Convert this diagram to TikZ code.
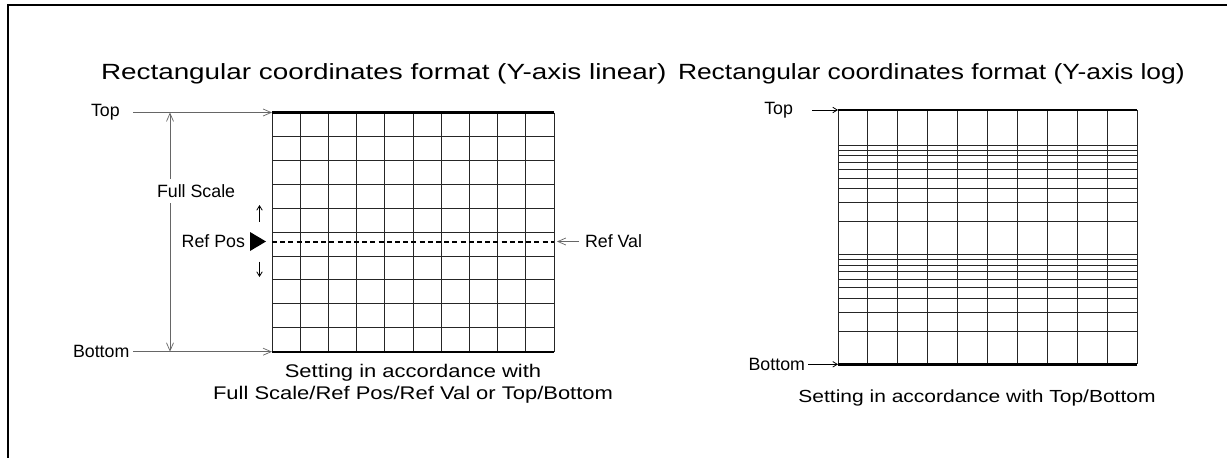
\documentclass[tikz,border=0pt]{standalone}
\usepackage{graphicx}
\usepackage{fontspec}
\setmainfont{Liberation Sans}[FakeStretch=1.2]
\newfontfamily\lblfont{Liberation Sans}
\usetikzlibrary{arrows.meta}
\begin{document}
\begin{tikzpicture}[x=1pt,y=-1pt,
  every node/.style={inner sep=0pt, outer sep=0pt},
  gridline/.style={line width=0.9pt, black!85},
  edgeline/.style={line width=2.4pt, black},
  grayarrow/.style={black!60, line width=0.7pt, -{Straight Barb[length=8pt,width=7pt]}},
  blackarrow/.style={black, line width=0.8pt, -{Straight Barb[length=4.5pt,width=5.5pt]}},
  titletext/.style={font=\fontsize{22}{26}\selectfont, anchor=base west},
  labeltext/.style={font=\lblfont\fontsize{17.8}{21}\selectfont},
  captiontext/.style={font=\fontsize{18.3}{22}\selectfont, align=center}
]
\useasboundingbox (0,0) rectangle (1227,458);
\fill[white] (0,0) rectangle (1227,458);
\draw[line width=2.5pt] (1227,5) -- (8,5) -- (8,458);

% titles
\node[titletext] (t1) at (101,79) {\scalebox{1.055}[1]{Rectangular coordinates format (Y-axis linear)}};
\node[titletext] (t2) at (678,79) {Rectangular coordinates format (Y-axis log)};

% ---------- left grid ----------
\coordinate (LTL) at (272,112.5);
\coordinate (LBL) at (272,351.7);
\coordinate (LRV) at (557,241.5);
\foreach \i in {0,...,10} \draw[gridline] ({272+28.2*\i},112.5) -- ({272+28.2*\i},351.7);
\foreach \j in {1,...,9} \draw[gridline] (272,{112.5+23.92*\j}) -- (554,{112.5+23.92*\j});
\draw[edgeline] (272,112.5) -- (554,112.5);
\draw[edgeline] (272,351.7) -- (554,351.7);
\draw[line width=2pt, dash pattern=on 5pt off 3.2pt] (272,241.5) -- (554,241.5);

\node[labeltext, anchor=west] (top1) at (91,112.5) {Top};
\node[labeltext, anchor=west] (bot1) at (73,351.7) {Bottom};
\coordinate (t1s) at (133,112.5);
\coordinate (b1s) at (133,351.7);
\draw[grayarrow] (t1s) -- (LTL);
\draw[grayarrow] (b1s) -- (LBL);

\node[labeltext, anchor=west] (fs) at (157,191) {Full Scale};
\coordinate (fsT) at (170,112.5);
\coordinate (fsB) at (170,351.7);
\coordinate (fsU) at (170,179);
\coordinate (fsD) at (170,203);
\draw[grayarrow] (fsU) -- (fsT);
\draw[grayarrow] (fsD) -- (fsB);

\node[labeltext, anchor=east] (rp) at (245,241.5) {Ref Pos};
\fill (250,232) -- (250,251) -- (266,241.5) -- cycle;
\coordinate (upS) at (259.5,221.5);
\coordinate (upE) at (259.5,205);
\coordinate (dnS) at (259.5,261.5);
\coordinate (dnE) at (259.5,277);
\draw[blackarrow] (upS) -- (upE);
\draw[blackarrow] (dnS) -- (dnE);

\node[labeltext, anchor=west] (rv) at (585,241.5) {Ref Val};
\coordinate (rvS) at (579,241.5);
\draw[grayarrow] (rvS) -- (LRV);

\node[captiontext, anchor=north] (cap1) at (413,364) {Setting in accordance with\\Full Scale/Ref Pos/Ref Val or Top/Bottom};

% ---------- right grid ----------
\coordinate (RTL) at (838,110);
\coordinate (RBL) at (838,364.3);
\foreach \i in {0,...,10} \draw[gridline] ({838+29.93*\i},110) -- ({838+29.93*\i},364.3);
\foreach \d in {0,1} \foreach \k in {2,...,10}
  \draw[gridline] (838,{364.3-(\d+log10(\k))*109.5}) -- (1137.3,{364.3-(\d+log10(\k))*109.5});
\draw[edgeline] (838,110) -- (1137.3,110);
\draw[edgeline] (838,364.3) -- (1137.3,364.3);

\node[labeltext, anchor=east] (top2) at (793,110) {Top};
\node[labeltext, anchor=east] (bot2) at (805,364.3) {Bottom};
\coordinate (t2s) at (812,110);
\coordinate (b2s) at (808,364.3);
\draw[blackarrow] (t2s) -- (RTL);
\draw[blackarrow] (b2s) -- (RBL);

\node[captiontext, anchor=north, font=\fontsize{17.5}{21}\selectfont] (cap2) at (977,390) {Setting in accordance with Top/Bottom};
\end{tikzpicture}
\end{document}
